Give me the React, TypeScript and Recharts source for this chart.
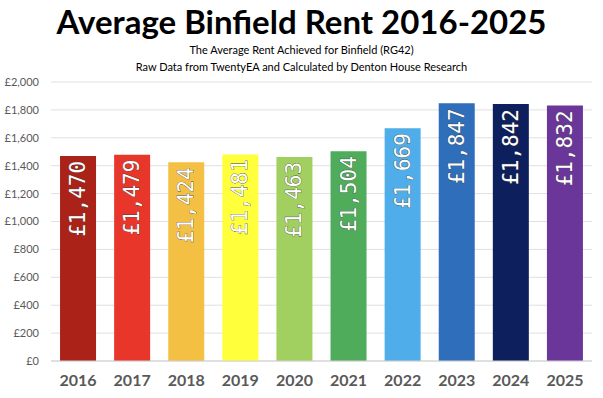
import React from "react";
import { BarChart, Bar, XAxis, YAxis, CartesianGrid, Cell, LabelList } from "recharts";

const YEARS = ["2016", "2017", "2018", "2019", "2020", "2021", "2022", "2023", "2024", "2025"];
const RENTS = [1470, 1479, 1424, 1481, 1463, 1504, 1669, 1847, 1842, 1832];
const COLORS = ["#AB2318", "#E8372A", "#F4C043", "#FFFF3C", "#A2D060", "#4EAC5B", "#4FADEA", "#2F6EBA", "#0D1F5C", "#6A369A"];
const Y_TICKS = [0, 200, 400, 600, 800, 1000, 1200, 1400, 1600, 1800, 2000];

const data = YEARS.map((year, i) => ({ year, rent: RENTS[i] }));

const money = (v: number) => "£" + v.toLocaleString("en-GB");

const BarLabel = (props: any) => {
  const { x, y, width, value } = props;
  const cx = x + width / 2;
  const cy = y + 5;
  return (
    <text
      x={cx}
      y={cy}
      transform={`rotate(-90 ${cx} ${cy})`}
      textAnchor="end"
      dominantBaseline="central"
      fill="#ffffff"
      stroke="#444444"
      strokeWidth={0.7}
      paintOrder="stroke"
      style={{ fontFamily: "'DejaVu Sans Mono'", fontSize: 21 }}
    >
      {money(value)}
    </text>
  );
};

export default function App() {
  return (
    <div style={{ position: "absolute", left: 0, top: 0, width: 603, height: 398, background: "#fff", fontFamily: "Lato, sans-serif" }}>
      <div style={{ position: "absolute", top: 0, left: 0, width: 603, textAlign: "center", fontWeight: 700, fontSize: 33, lineHeight: "42px", color: "#000" }}>
        Average Binfield Rent 2016-2025
      </div>
      <div style={{ position: "absolute", top: 41, left: 0, width: 603, textAlign: "center", fontSize: 11, lineHeight: "17px", color: "#000" }}>
        The Average Rent Achieved for Binfield (RG42)
        <br />
        Raw Data from TwentyEA and Calculated by Denton House Research
      </div>
      <BarChart
        width={603}
        height={398}
        data={data}
        margin={{ top: 82, right: 11, left: 0, bottom: 0 }}
        barCategoryGap="16.7%"
      >
        <CartesianGrid vertical={false} stroke="#e0e0e0" />
        <XAxis
          dataKey="year"
          height={37}
          tickLine={false}
          axisLine={{ stroke: "#d0d0d0" }}
          tickMargin={8}
          tick={{ fill: "#595959", fontSize: 16, fontWeight: 700, fontFamily: "Lato" }}
        />
        <YAxis
          width={51}
          domain={[0, 2000]}
          ticks={Y_TICKS}
          tickFormatter={money}
          axisLine={false}
          tickLine={false}
          tickMargin={6}
          tick={{ fill: "#595959", fontSize: 11, fontFamily: "Lato" }}
        />
        <Bar dataKey="rent" isAnimationActive={false}>
          {data.map((_, i) => (
            <Cell key={`c-${i}`} fill={COLORS[i]} />
          ))}
          <LabelList dataKey="rent" content={BarLabel} />
        </Bar>
      </BarChart>
    </div>
  );
}
